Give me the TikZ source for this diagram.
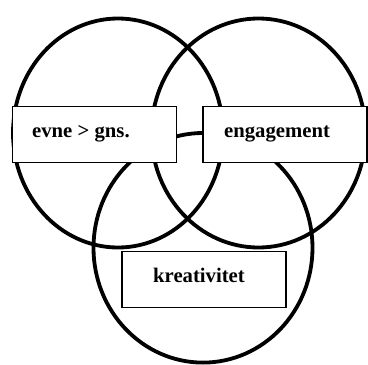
\documentclass[tikz,border=0pt]{standalone}
\usepackage{fontspec}
\setmainfont{Liberation Serif}
\begin{document}
\begin{tikzpicture}[x=1pt,y=-1pt,
  ring/.style={draw=black, line width=3.8pt},
  labelbox/.style={draw=black, line width=1.2pt, fill=white, rectangle,
                   minimum width=164pt, minimum height=56pt, inner sep=0pt},
  lbl/.style={inner sep=0pt, anchor=base west,
              font=\fontsize{20.7}{24}\selectfont\bfseries}]
  \useasboundingbox (0,0) rectangle (368,365);

  % three overlapping rings
  \draw[ring] (118,133) ellipse [x radius=105pt, y radius=114.5pt];
  \draw[ring] (258.5,133) ellipse [x radius=107pt, y radius=114.5pt];
  \draw[ring] (203,247.8) ellipse [x radius=109.5pt, y radius=114.8pt];

  % label boxes on top of the rings
  \node[labelbox] (evne) at (94.5,134.5) {};
  \node[labelbox] (eng) at (285,134.5) {};
  \node[labelbox] (krea) at (204,279.5) {};

  % labels
  \node[lbl] (evnetxt) at (32,137) {evne > gns.};
  \node[lbl] (engtxt) at (224,137) {engagement};
  \node[lbl] (kreatxt) at (153,282) {kreativitet};
\end{tikzpicture}
\end{document}
